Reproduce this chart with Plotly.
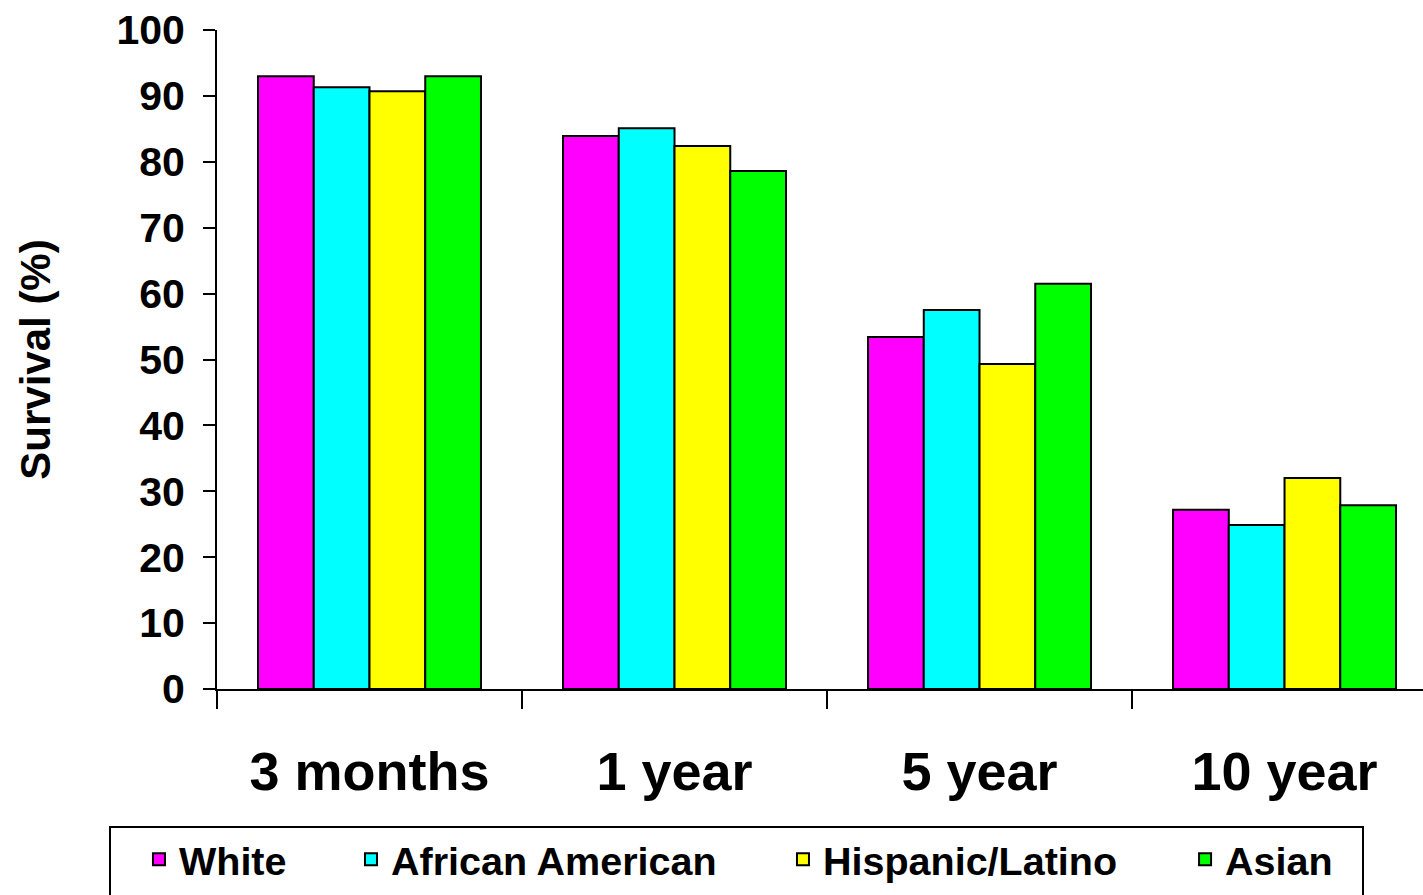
import plotly.graph_objects as go

categories = ["3 months", "1 year", "5 year", "10 year"]
series_names = ["White", "African American", "Hispanic/Latino", "Asian"]
white = [93.0, 83.9, 53.4, 27.2]
african_american = [91.3, 85.1, 57.5, 24.9]
hispanic_latino = [90.7, 82.4, 49.3, 32.0]
asian = [93.0, 78.6, 61.5, 27.9]
colors = ["#FF00FF", "#00FFFF", "#FFFF00", "#00FF00"]
y_ticks = [0, 10, 20, 30, 40, 50, 60, 70, 80, 90, 100]

FONT = "Liberation Sans, Arial, sans-serif"
legend_ids = ["legend", "legend2", "legend3", "legend4"]
legend_x = [-0.0647, 0.1111, 0.4693, 0.8027]

fig = go.Figure()
for name, vals, col, lid in zip(series_names, [white, african_american, hispanic_latino, asian], colors, legend_ids):
    fig.add_trace(go.Bar(x=categories, y=vals, name=name, legend=lid,
                         marker=dict(color=col, line=dict(color="black", width=2))))

legend_common = dict(orientation="h", xanchor="left", y=-0.2094, yanchor="top",
                     borderwidth=0, bgcolor="rgba(0,0,0,0)",
                     font=dict(size=39.5, family=FONT, color="black", weight="bold"))
legends = {lid: dict(x=lx, **legend_common) for lid, lx in zip(legend_ids, legend_x)}

fig.update_layout(
    width=1423, height=895,
    margin=dict(l=217, r=0, t=30, b=206),
    paper_bgcolor="white", plot_bgcolor="white",
    barmode="group", bargap=0.269, bargroupgap=0,
    font=dict(family=FONT, color="black", weight="bold"),
    showlegend=True,
    **legends,
    shapes=[dict(type="rect", xref="paper", yref="paper",
                 x0=(110 - 217) / 1206, x1=(1363 - 217) / 1206,
                 y0=(689 - 905) / 659, y1=(689 - 827) / 659,
                 line=dict(color="black", width=2), fillcolor="rgba(0,0,0,0)", layer="below")],
)
fig.update_xaxes(
    range=[-0.5, 3.454], showline=True, linecolor="black", linewidth=2,
    ticks="outside", tickson="boundaries", ticklen=18, tickwidth=2, tickcolor="black",
    tickfont=dict(size=54, family=FONT, color="black", weight="bold"),
    ticklabelstandoff=34, showgrid=False, zeroline=False,
)
fig.update_yaxes(
    range=[0, 100], tickvals=y_ticks, showline=True, linecolor="black", linewidth=2,
    ticks="outside", ticklen=12, tickwidth=2, tickcolor="black",
    tickfont=dict(size=41, family=FONT, color="black", weight="bold"),
    ticklabelstandoff=10, showgrid=False, zeroline=False,
    title=dict(text="Survival (%)", font=dict(size=42, family=FONT, color="black", weight="bold"),
               standoff=53),
)
fig.write_html("out.html")
